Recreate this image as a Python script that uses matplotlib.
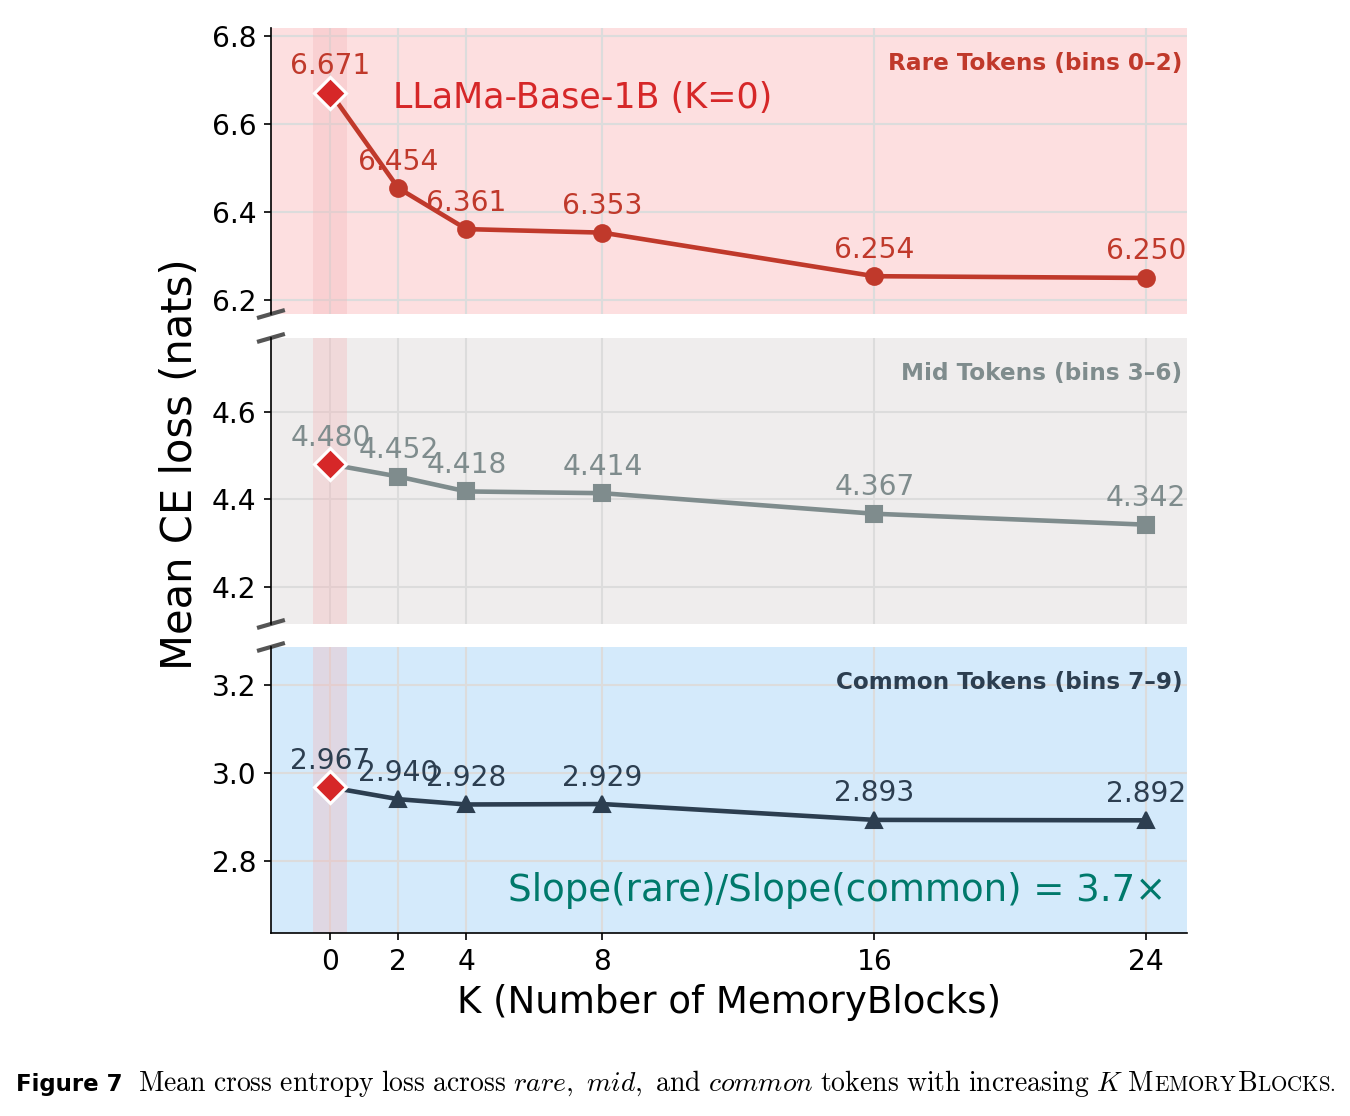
import numpy as np
import matplotlib
matplotlib.use("Agg")
import matplotlib.pyplot as plt

plt.rcParams["mathtext.fontset"] = "cm"

# data
K = [0, 2, 4, 8, 16, 24]
rare = [6.671, 6.454, 6.361, 6.353, 6.254, 6.250]
mid = [4.480, 4.452, 4.418, 4.414, 4.367, 4.342]
common = [2.967, 2.940, 2.928, 2.929, 2.893, 2.892]

panel_names = ["Rare Tokens (bins 0–2)", "Mid Tokens (bins 3–6)", "Common Tokens (bins 7–9)"]
panel_ylims = [(6.168, 6.818), (4.115, 4.769), (2.636, 3.286)]
panel_yticks = [[6.2, 6.4, 6.6, 6.8], [4.2, 4.4, 4.6], [2.8, 3.0, 3.2]]
line_colors = ["#c0392b", "#7f8c8d", "#2c3e50"]
bg_colors = ["#fddfe0", "#efeded", "#d4eafb"]
markers = ["o", "s", "^"]
base_red = "#d62728"

fig = plt.figure(figsize=(9, 7.44), dpi=150)
left, width = 0.2007, 0.6786
bottoms = [0.7186, 0.4409, 0.1640]
height = 0.2563

axes = []
for i, series in enumerate([rare, mid, common]):
    ax = fig.add_axes([left, bottoms[i], width, height])
    axes.append(ax)
    ax.set_facecolor(bg_colors[i])
    ax.set_xlim(-1.75, 25.2)
    ax.set_ylim(*panel_ylims[i])
    ax.set_yticks(panel_yticks[i])
    ax.set_xticks(K)
    ax.grid(True, color="#dcdcdc", lw=1.0, zorder=0)
    ax.set_axisbelow(True)
    ax.axvspan(-0.5, 0.5, color="#f4b6b9", alpha=0.35, lw=0, zorder=1)
    for s in ["top", "right"]:
        ax.spines[s].set_visible(False)
    if i < 2:
        ax.spines["bottom"].set_visible(False)
        ax.tick_params(axis="x", bottom=False, labelbottom=False)
    ax.tick_params(labelsize=13.5)

    ax.plot(K[1:], series[1:], marker=markers[i], color=line_colors[i], lw=2.2, ms=8, zorder=3)
    ax.plot(K[:2], series[:2], color=line_colors[i], lw=2.2, zorder=3)
    ax.plot(K[0], series[0], marker="D", color=base_red, mec="white", mew=1.5, ms=11, ls="none", zorder=4)
    for k, v in zip(K, series):
        ax.annotate(f"{v:.3f}", (k, v), xytext=(0, 6), textcoords="offset points",
                    ha="center", va="bottom", fontsize=13.5, color=line_colors[i], zorder=5)
    ax.text(0.995, 0.915, panel_names[i], transform=ax.transAxes, ha="right", va="top",
            fontsize=11.1, fontweight="bold", color=line_colors[i])

    # break marks on left spine
    dx, dy = 0.013, 0.012
    kw = dict(transform=ax.transAxes, color="#555555", lw=2, clip_on=False)
    if i < 2:
        ax.plot([-dx, dx], [-dy, dy], **kw)
    if i > 0:
        ax.plot([-dx, dx], [1 - dy, 1 + dy], **kw)

axes[0].text(1.85, 6.66, "LLaMa-Base-1B (K=0)", fontsize=16.75, color=base_red, ha="left", va="center")
axes[2].text(0.977, 0.15, "Slope(rare)/Slope(common) = 3.7×", transform=axes[2].transAxes,
             fontsize=17.85, color="#00796b", ha="right", va="center")

axes[2].set_xlabel("K (Number of MemoryBlocks)", fontsize=17.8)
fig.text(0.133, 0.584, "Mean CE loss (nats)", rotation=90, fontsize=20, ha="center", va="center")

# caption: pieces placed one after another on the same baseline
cap_y = 0.0224
fig.text(0.012, cap_y, "Figure 7", fontsize=11, fontweight="bold", ha="left", va="baseline")
pieces = [
    (r"$\mathrm{Mean\ cross\ entropy\ loss\ across\ }\mathit{rare,\ mid,}\mathrm{\ and\ }\mathit{common}"
     r"\mathrm{\ tokens\ with\ increasing\ }K\mathrm{\ M}$", 13.3),
    (r"$\mathrm{EMORY}$", 10.1),
    (r"$\mathrm{B}$", 13.3),
    (r"$\mathrm{LOCKS.}$", 10.1),
]
renderer = fig.canvas.get_renderer()
x = 0.102
for s, fs in pieces:
    t = fig.text(x, cap_y, s, fontsize=fs, ha="left", va="baseline")
    bb = t.get_window_extent(renderer)
    x = fig.transFigure.inverted().transform((bb.x1, 0))[0]

fig.savefig("out.png", dpi=150)
